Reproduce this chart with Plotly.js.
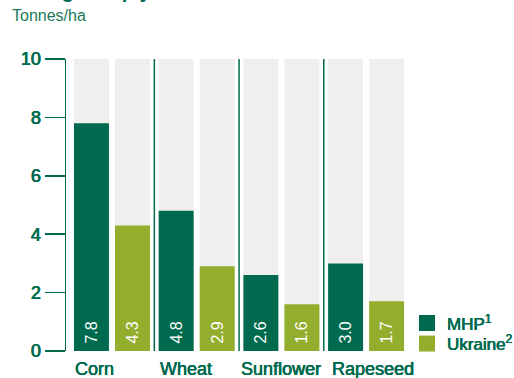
<!DOCTYPE html>
<html>
<head>
<meta charset="utf-8">
<script src="https://cdn.plot.ly/plotly-3.0.1.min.js"></script>
<style>html,body{margin:0;padding:0;background:#fff;}#chart{width:514px;height:378px;}</style>
</head>
<body>
<div id="chart"></div>
<script>
const categories = ['Corn', 'Wheat', 'Sunflower', 'Rapeseed'];
const mhpValues = [7.8, 4.8, 2.6, 3.0];
const ukraineValues = [4.3, 2.9, 1.6, 1.7];
const scaleMax = [10, 10, 10, 10];
const seriesNames = ['MHP<sup>1</sup>', 'Ukraine<sup>2</sup>'];
const yTickValues = [0, 2, 4, 6, 8, 10];
const yTickLabels = ['0', '2', '4', '6', '8', '10'];
const unitLabel = 'Tonnes/ha';
const chartHeading = 'Average crop yield';

const DARK = '#006A4E';
const OLIVE = '#93AE2C';
const GREY = '#EFF0EE';
const FONT = '"Liberation Sans", Arial, sans-serif';
const THICKEN = '0.35px 0 0 #006A4E, -0.35px 0 0 #006A4E';

// layout: bar geometry in category units, label nudges in pixels
const barW = 0.413;
const offMHP = -0.449;
const offUA = 0.0354;
const labelNudge = [-39, -39, -42, -36];

const valueFont = {color: '#ffffff', size: 16, family: FONT};

const traces = [
  {type: 'bar', x: categories, y: scaleMax, offset: offMHP, width: barW,
   marker: {color: GREY}, showlegend: false, hoverinfo: 'skip'},
  {type: 'bar', x: categories, y: scaleMax, offset: offUA, width: barW,
   marker: {color: GREY}, showlegend: false, hoverinfo: 'skip'},
  {type: 'bar', x: categories, y: mhpValues, offset: offMHP, width: barW,
   marker: {color: DARK}, showlegend: false, name: seriesNames[0],
   texttemplate: '\u00A0%{y:.1f}', textposition: 'inside', insidetextanchor: 'start',
   textangle: -90, insidetextfont: valueFont},
  {type: 'bar', x: categories, y: ukraineValues, offset: offUA, width: barW,
   marker: {color: OLIVE}, showlegend: false, name: seriesNames[1],
   texttemplate: '\u00A0%{y:.1f}', textposition: 'inside', insidetextanchor: 'start',
   textangle: -90, insidetextfont: valueFont},
  {type: 'scatter', mode: 'markers', x: [null], y: [null], name: seriesNames[0], legend: 'legend',
   marker: {symbol: 'square', size: 16, color: DARK, line: {width: 0}}, hoverinfo: 'skip'},
  {type: 'scatter', mode: 'markers', x: [null], y: [null], name: seriesNames[1], legend: 'legend2',
   marker: {symbol: 'square', size: 16, color: OLIVE, line: {width: 0}}, hoverinfo: 'skip'}
];

const labelFont = {family: FONT, size: 18, color: DARK, shadow: THICKEN};

const annotations = categories.map((c, i) => ({
  x: c, y: 0, xref: 'x', yref: 'y', text: c, showarrow: false,
  xanchor: 'left', yanchor: 'middle', xshift: labelNudge[i], yshift: -18,
  font: labelFont
}));
annotations.push({
  x: (5 - 66) / 344, y: (351 + 9.5) / 292, xref: 'paper', yref: 'paper',
  text: '<b>' + chartHeading + '</b>',
  showarrow: false, xanchor: 'left', yanchor: 'middle',
  font: {family: FONT, size: 20, color: DARK}
});

const shapes = [0.5, 1.5, 2.5].map(p => ({
  type: 'line', xref: 'x', yref: 'y', x0: p, x1: p, y0: 0, y1: 10,
  line: {color: DARK, width: 1.5}
}));

const legendFont = {family: FONT, size: 17, color: DARK, shadow: THICKEN};

const layout = {
  width: 514, height: 378,
  margin: {l: 66, r: 104, t: 59, b: 27, pad: 0, autoexpand: false},
  paper_bgcolor: '#ffffff', plot_bgcolor: '#ffffff',
  barmode: 'overlay',
  font: {family: FONT, color: DARK},
  title: {text: unitLabel, x: 12 / 514, xanchor: 'left', y: 1 - 15 / 378, yanchor: 'middle',
          font: {family: FONT, size: 16, color: '#1B7A59'}},
  xaxis: {type: 'category', range: [-0.543, 3.518], showticklabels: false, showgrid: false,
          zeroline: false, showline: false, ticks: '', fixedrange: true},
  yaxis: {range: [0, 10], tickvals: yTickValues, ticktext: yTickLabels, showgrid: false,
          zeroline: false, showline: true, linecolor: DARK, linewidth: 1.5,
          ticks: 'outside', ticklen: 20, tickwidth: 1.5, tickcolor: DARK,
          tickfont: {family: FONT, size: 18, color: DARK, shadow: THICKEN}, fixedrange: true},
  legend: {xref: 'container', yref: 'container', x: 407 / 514, y: 1 - 305.5 / 378,
           xanchor: 'left', yanchor: 'top', bgcolor: 'rgba(0,0,0,0)',
           font: legendFont, itemwidth: 30},
  legend2: {xref: 'container', yref: 'container', x: 407 / 514, y: 1 - 326 / 378,
           xanchor: 'left', yanchor: 'top', bgcolor: 'rgba(0,0,0,0)',
           font: legendFont, itemwidth: 30},
  annotations: annotations,
  shapes: shapes,
  showlegend: true
};

Plotly.newPlot('chart', traces, layout, {displayModeBar: false, staticPlot: true});
</script>
</body>
</html>
